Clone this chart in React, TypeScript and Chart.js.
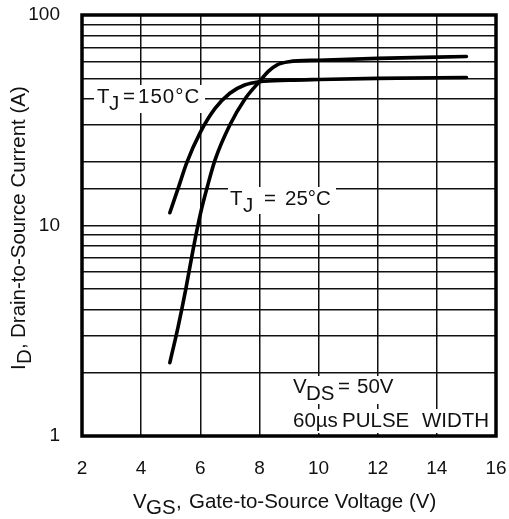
import React, { useEffect, useRef } from "react";
import { Chart, registerables } from "chart.js";

Chart.register(...registerables);

// ---- data ----
const vgs150 = [4.97, 5.25, 5.55, 6.0, 6.5, 7.0, 7.5, 8.0, 9.0, 10.0, 12.0, 15.0];
const id150 = [11.5, 15.0, 20.0, 27.7, 36.0, 42.5, 46.5, 48.2, 49.0, 49.4, 50.0, 50.5];

const vgs25 = [4.97, 5.25, 5.5, 5.75, 6.0, 6.25, 6.5, 7.0, 7.5, 8.0, 8.3, 8.6, 9.0, 10.0, 12.0, 15.0];
const id25 = [2.23, 3.3, 4.9, 7.6, 11.3, 15.5, 20.5, 30.0, 39.7, 48.3, 54.0, 58.0, 60.0, 61.0, 62.2, 63.5];

const xTicks = [2, 4, 6, 8, 10, 12, 14, 16];
const yTickLabels = [1, 10, 100];

const FONT = "'Liberation Sans', Arial, Helvetica, sans-serif";
const INK = "#111111";

type Part = { t: string; x: number; sub?: boolean; ls?: number };

function drawParts(ctx: CanvasRenderingContext2D, parts: Part[], baseline: number, size: number, subShift: number) {
  ctx.font = `${size}px ${FONT}`;
  ctx.fillStyle = INK;
  ctx.textAlign = "left";
  ctx.textBaseline = "alphabetic";
  for (const p of parts) {
    (ctx as any).letterSpacing = `${p.ls ?? 0}px`;
    ctx.fillText(p.t, p.x, baseline + (p.sub ? subShift : 0));
  }
  (ctx as any).letterSpacing = "0px";
}

function whiteBox(ctx: CanvasRenderingContext2D, x0: number, y0: number, x1: number, y1: number) {
  ctx.fillStyle = "#ffffff";
  ctx.fillRect(x0, y0, x1 - x0, y1 - y0);
}

const ANN = 20.5;

const annotationPlugin = {
  id: "annotations",
  beforeDatasetsDraw(chart: any) {
    const ctx: CanvasRenderingContext2D = chart.ctx;
    ctx.save();
    // T_J = 150°C
    whiteBox(ctx, 94, 85, 205, 113);
    drawParts(ctx, [
      { t: "T", x: 97 },
      { t: "J", x: 109, sub: true },
      { t: "=", x: 123 },
      { t: "150°C", x: 138, ls: 1 },
    ], 103, ANN, 7);
    // T_J = 25°C
    whiteBox(ctx, 228, 187, 336, 214);
    drawParts(ctx, [
      { t: "T", x: 230 },
      { t: "J", x: 243, sub: true },
      { t: "=", x: 264 },
      { t: "25°C", x: 285 },
    ], 205, ANN, 7);
    // V_DS = 50V
    whiteBox(ctx, 290, 376, 397, 404);
    drawParts(ctx, [
      { t: "V", x: 293 },
      { t: "DS", x: 306, sub: true },
      { t: "=", x: 338 },
      { t: "50V", x: 357 },
    ], 393, ANN, 7);
    // 60µs PULSE WIDTH
    whiteBox(ctx, 290, 409, 492, 433);
    drawParts(ctx, [
      { t: "60µs", x: 293 },
      { t: "PULSE", x: 342 },
      { t: "WIDTH", x: 422 },
    ], 427, ANN, 0);
    ctx.restore();
  },
  afterDraw(chart: any) {
    const ctx: CanvasRenderingContext2D = chart.ctx;
    const a = chart.chartArea;
    ctx.save();
    // frame
    ctx.strokeStyle = "#000";
    ctx.lineWidth = 3.5;
    ctx.strokeRect(a.left, a.top, a.right - a.left, a.bottom - a.top);
    // x-axis title
    drawParts(ctx, [
      { t: "V", x: 133 },
      { t: "GS", x: 146, sub: true },
      { t: ",", x: 176 },
      { t: "Gate-to-Source Voltage (V)", x: 189 },
    ], 508, 20.5, 6);
    // y-axis title (rotated)
    ctx.translate(25, 370);
    ctx.rotate(-Math.PI / 2);
    drawParts(ctx, [
      { t: "I", x: 0 },
      { t: "D", x: 6, sub: true },
      { t: ",", x: 21 },
      { t: "Drain-to-Source Current (A)", x: 32 },
    ], 0, 20.5, 6);
    ctx.restore();
  },
};

const zeroPadding = (s: any) => {
  s.paddingTop = 0;
  s.paddingBottom = 0;
  s.paddingLeft = 0;
  s.paddingRight = 0;
};

export default function App() {
  const ref = useRef<HTMLCanvasElement | null>(null);

  useEffect(() => {
    document.body.style.margin = "0";
    document.body.style.overflow = "hidden";
    const canvas = ref.current;
    if (!canvas) return;

    const line = (xs: number[], ys: number[]) => ({
      data: xs.map((x, i) => ({ x, y: ys[i] })),
      showLine: true,
      borderColor: "#000",
      borderWidth: 3.6,
      pointRadius: 0,
      fill: false,
      cubicInterpolationMode: "monotone" as const,
      borderCapStyle: "round" as const,
    });

    const chart = new Chart(canvas, {
      type: "scatter",
      data: {
        datasets: [line(vgs150, id150), line(vgs25, id25)],
      },
      options: {
        animation: false,
        responsive: false,
        layout: { padding: { top: 15, right: 13, left: 0, bottom: 0 } },
        plugins: { legend: { display: false }, tooltip: { enabled: false } },
        scales: {
          x: {
            type: "linear",
            min: xTicks[0],
            max: xTicks[xTicks.length - 1],
            afterBuildTicks: (s: any) => {
              s.ticks = xTicks.map((v) => ({ value: v }));
            },
            ticks: {
              padding: 21,
              color: INK,
              font: { size: 19, family: FONT },
              maxRotation: 0,
              autoSkip: false,
            },
            grid: { color: "#111", lineWidth: 1.5, drawTicks: false },
            border: { display: false },
            afterFit: (s: any) => {
              s.height = 83;
              zeroPadding(s);
            },
          },
          y: {
            type: "logarithmic",
            min: yTickLabels[0],
            max: yTickLabels[yTickLabels.length - 1],
            ticks: {
              padding: 22,
              color: INK,
              autoSkip: false,
              font: { size: 19, family: FONT },
              callback: (v: any) => {
                const n = Number(v);
                return yTickLabels.some((t) => Math.abs(t - n) < 1e-9) ? String(n) : "";
              },
            },
            grid: { color: "#111", lineWidth: 1.5, drawTicks: false },
            border: { display: false },
            afterFit: (s: any) => {
              s.width = 82;
              zeroPadding(s);
            },
          },
        },
      },
      plugins: [annotationPlugin],
    });

    return () => chart.destroy();
  }, []);

  return (
    <div style={{ width: 509, height: 519 }}>
      <canvas ref={ref} width={509} height={519} style={{ display: "block", width: 509, height: 519 }} />
    </div>
  );
}
